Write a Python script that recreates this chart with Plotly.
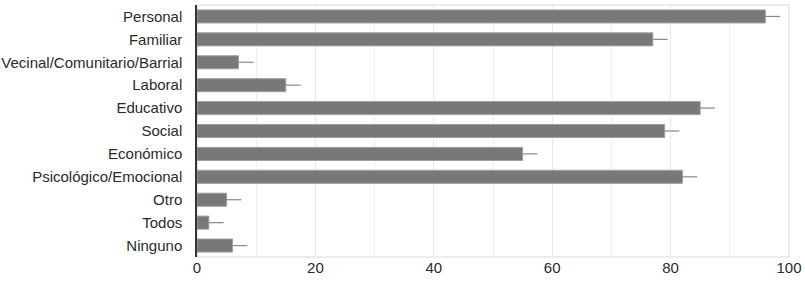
import plotly.graph_objects as go

categories = ["Personal", "Familiar", "Vecinal/Comunitario/Barrial", "Laboral", "Educativo",
              "Social", "Económico", "Psicológico/Emocional", "Otro", "Todos", "Ninguno"]
values = [96, 77, 7, 15, 85, 79, 55, 82, 5, 2, 6]
errors = [2.5, 2.5, 2.5, 2.5, 2.5, 2.5, 2.5, 2.5, 2.5, 2.5, 2.5]
tick_vals = [0, 20, 40, 60, 80, 100]

fig = go.Figure(go.Bar(
    y=categories, x=values, orientation="h",
    marker=dict(color="#787878", line=dict(color="#a0a0a0", width=1)),
    error_x=dict(type="data", array=errors, symmetric=False, arrayminus=[0]*len(errors),
                 color="#8a8a8a", thickness=1.2, width=0),
))

fig.update_layout(
    width=805, height=287,
    margin=dict(l=197, r=16, t=5, b=30),
    plot_bgcolor="white", paper_bgcolor="white",
    bargap=0.43,
    showlegend=False,
    font=dict(family="Liberation Sans, Arial, sans-serif", size=15, color="#2a2a2a"),
    shapes=[dict(type="rect", xref="paper", yref="paper", x0=0, x1=1, y0=0, y1=1,
                 line=dict(color="#e6e6e6", width=1.5), layer="below")],
)
fig.update_xaxes(range=[0, 100], tickvals=tick_vals, showgrid=True, gridcolor="#e8e8e8",
                 minor=dict(dtick=10, showgrid=True, gridcolor="#eeeeee"),
                 zeroline=False, ticks="", automargin=False,
                 tickfont=dict(size=15, color="#2a2a2a"))
fig.update_yaxes(categoryorder="array", categoryarray=categories, autorange="reversed",
                 showline=True, linecolor="#333", linewidth=1.5, ticks="",
                 automargin=False, ticklabelstandoff=10,
                 tickfont=dict(size=15, color="#2a2a2a"))

fig.write_html("out.html", config={"displayModeBar": False},
               post_script="document.body.style.margin='0';")
